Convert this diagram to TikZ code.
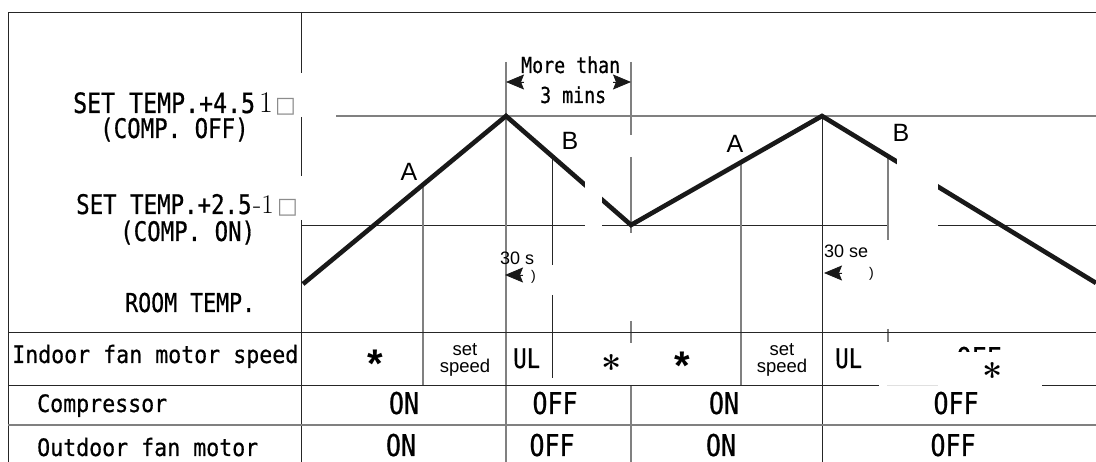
\documentclass[tikz,border=0pt]{standalone}
\usepackage{fontspec}
\newfontfamily\capfont[FakeStretch=0.83, FakeBold=0.6]{DejaVu Sans Mono}
\newfontfamily\tabfont[FakeStretch=0.9, FakeBold=0.6]{DejaVu Sans Mono}
\newfontfamily\arialfont{Liberation Sans}
\newfontfamily\symfont{DejaVu Sans}
\usetikzlibrary{arrows.meta, positioning}
\tikzset{
  frame/.style={draw=black!85, line width=0.9pt},
  rule/.style={draw=black!85, line width=0.9pt},
  greyrule/.style={draw=black!50, line width=1.2pt},
  trend/.style={draw=black!90, line width=4.6pt, line join=miter},
  blank/.style={fill=white, draw=none},
  caplbl/.style={font=\capfont\fontsize{28}{30}\selectfont, inner sep=0pt, anchor=base west},
  notelbl/.style={font=\capfont\fontsize{27}{30}\selectfont, inner sep=0pt, anchor=base west},
  dimlbl/.style={font=\capfont\fontsize{22}{24}\selectfont, inner sep=0pt, anchor=base west},
  tablbl/.style={font=\tabfont\fontsize{24}{26}\selectfont, inner sep=0pt, anchor=base west},
  onoff/.style={font=\capfont\fontsize{30}{30}\selectfont, inner sep=0pt, anchor=base},
  ullbl/.style={font=\capfont\fontsize{27}{27}\selectfont, inner sep=0pt, anchor=base west},
  zone/.style={font=\arialfont\fontsize{25}{25}\selectfont, inner sep=0pt, anchor=base},
  seclbl/.style={font=\arialfont\fontsize{18}{18}\selectfont, inner sep=0pt, anchor=base west},
  brklbl/.style={font=\arialfont\fontsize{14}{14}\selectfont, inner sep=0pt, anchor=base west},
  speedlbl/.style={font=\arialfont\fontsize{18.5}{17}\selectfont, align=center, inner sep=0pt},
  sansstar/.style={font=\arialfont\bfseries\fontsize{40}{40}\selectfont, inner sep=0pt, anchor=base},
  serifstar/.style={font=\rmfamily\bfseries\fontsize{36}{36}\selectfont, inner sep=0pt, anchor=base},
  tolsign/.style={font=\rmfamily\fontsize{30}{30}\selectfont, inner sep=0pt, anchor=base west},
  boxsign/.style={font=\symfont\fontsize{22}{22}\selectfont, text=black!45, inner sep=0pt, anchor=base west},
  dimtip/.style={draw=black!90, fill=black!90, line width=0.8pt, -{Stealth[length=18pt, width=15pt, inset=3pt]}},
}
\begin{document}
\begin{tikzpicture}[x=1pt, y=-1pt]
  \useasboundingbox (0,0) rectangle (1096,462);
  % frame and temperature levels
  \draw[frame] (1096,12) -- (8,12) -- (8,462);
  \draw[rule] (301,12) -- (301,73) (301,117) -- (301,176) (301,220) -- (301,462);
  \draw[greyrule] (336,116) -- (1096,116);
  \draw[rule] (301,225) -- (585,225) (602,225) -- (888,225) (938,225) -- (1096,225);

  \coordinate (start) at (303,284);
  \coordinate (peakA) at (506,116);
  \coordinate (valley) at (631,225);
  \coordinate (peakB) at (822,116);
  \coordinate (stop) at (1096,283);

  % time marks
  \draw[greyrule] (423,185) -- (423,385);
  \draw[greyrule] (506,62) -- (506,462);
  \draw[rule] (552,156) -- (552,265) (552,295) -- (552,378);
  \draw[greyrule] (631,62) -- (631,135) (631,157) -- (631,233) (631,321) -- (631,343) (631,385) -- (631,462);
  \draw[greyrule] (741,162) -- (741,385);
  \draw[rule] (822,116) -- (822,462);
  \draw[greyrule] (888,156) -- (888,240) (888,329) -- (888,342);

  % table rows
  \draw[rule] (8,332) -- (1096,332);
  \draw[rule] (8,385) -- (879,385) (1042,385) -- (1096,385);
  \draw[draw=black!12, line width=0.9pt] (887,385) -- (938,385);
  \draw[greyrule] (8,425) -- (1096,425);

  % room temperature
  \draw[trend] (start) -- (peakA) -- (valley) -- (peakB) -- (stop);
  \fill[blank] (585,150) rectangle (602,222);
  \fill[blank] (897,140) rectangle (938,215);

  % level labels
  \node[caplbl] (offlvl) at (73,113) {SET TEMP.+4.5};
  \node[tolsign] (offtol) at (259,113) {1};
  \node[boxsign] (offbox) at (275,113) {□};
  \node[notelbl] (offnote) at (100,138) {(COMP.\ OFF)};
  \node[caplbl, font=\capfont\fontsize{27}{30}\selectfont] (onlvl) at (76,214) {SET TEMP.+2.5};
  \node[tolsign, font=\rmfamily\fontsize{27}{27}\selectfont] (ontol) at (253,214) {-1};
  \node[boxsign] (onbox) at (277,214) {□};
  \node[notelbl] (onnote) at (120,241) {(COMP.\ ON)};
  \node[notelbl, font=\capfont\fontsize{26}{28}\selectfont] (room) at (125,312) {ROOM TEMP.};

  \node[zone] (zoneA1) at (409,181) {A};
  \node[zone] (zoneB1) at (570,150) {B};
  \node[zone] (zoneA2) at (735,153) {A};
  \node[zone] (zoneB2) at (901,142) {B};

  % minimum stop time
  \node[dimlbl] (more) at (521,73) {More than};
  \node[dimlbl] (mins) at (540,103) {3 mins};
  \draw[dimtip] (524,82) -- (506,82);
  \draw[dimtip] (613,82) -- (631,82);

  \node[seclbl] (sec1) at (500,265) {30 s};
  \draw[dimtip] (523,275) -- (505,275);
  \node[brklbl] (brk1) at (531,281) {)};
  \node[seclbl] (sec2) at (824,258) {30 se};
  \draw[dimtip] (842,273) -- (824,273);
  \node[brklbl] (brk2) at (869,278) {)};

  % table texts
  \node[tablbl] (indoor) at (12,363) {Indoor fan motor speed};
  \node[tablbl] (comp) at (37,412) {Compressor};
  \node[tablbl] (outdoor) at (37,456) {Outdoor fan motor};

  \node[sansstar] (fan1) at (375,378) {*};
  \node[speedlbl] (set1) at (465,360) {set\\speed};
  \node[ullbl] (ul1) at (513,368) {UL};
  \node[serifstar] (fan2) at (612,382) {*};
  \node[sansstar] (fan3) at (682,380) {*};
  \node[speedlbl] (set2) at (782,360) {set\\speed};
  \node[ullbl] (ul2) at (835,368) {UL};
  \begin{scope}
    \clip (940,340) rectangle (1020,352);
    \node[onoff] (fanoff) at (979,369) {OFF};
  \end{scope}
  \node[serifstar] (fan4) at (993,390) {*};

  \node[onoff] (compon1) at (404,414) {ON};
  \node[onoff] (compoff1) at (555,414) {OFF};
  \node[onoff] (compon2) at (724,414) {ON};
  \node[onoff] (compoff2) at (956,414) {OFF};
  \node[onoff] (outon1) at (401,456) {ON};
  \node[onoff] (outoff1) at (552,456) {OFF};
  \node[onoff] (outon2) at (721,456) {ON};
  \node[onoff] (outoff2) at (953,456) {OFF};
\end{tikzpicture}
\end{document}
